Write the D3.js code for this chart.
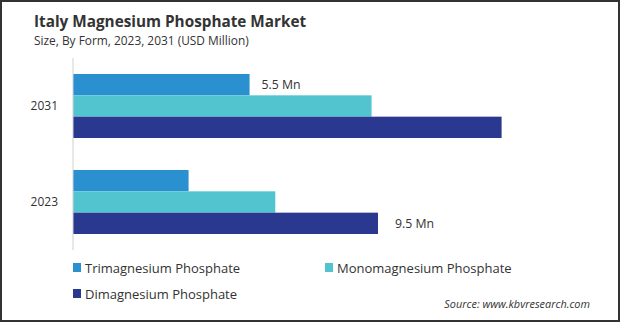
<!DOCTYPE html>
<html>
<head>
<meta charset="utf-8">
<script src="https://cdn.jsdelivr.net/npm/d3@7"></script>
<style>
  html, body { margin: 0; padding: 0; background: #fff; }
  #chart { width: 620px; height: 322px; }
  text { font-family: "Open Sans", "Noto Sans", sans-serif; }
</style>
</head>
<body>
<div id="chart"></div>
<script>
// chart data
const years = ["2031", "2023"];
const series = ["Trimagnesium Phosphate", "Monomagnesium Phosphate", "Dimagnesium Phosphate"];
const colors = ["#2b90d0", "#52c4cf", "#2b3890"];
// values per year, in series order (USD Million)
const values2031 = [5.5, 9.3, 13.35];
const values2023 = [3.6, 6.3, 9.5];
const valueLabels = [
  { year: "2031", series: "Trimagnesium Phosphate", text: "5.5 Mn" },
  { year: "2023", series: "Dimagnesium Phosphate", text: "9.5 Mn" }
];

const width = 620, height = 322;
const byYear = { "2031": values2031, "2023": values2023 };

const svg = d3.select("#chart").append("svg")
  .attr("width", width)
  .attr("height", height);

// frame around the picture
svg.append("rect")
  .attr("x", 1).attr("y", 1)
  .attr("width", width - 2).attr("height", height - 2)
  .attr("fill", "#fff")
  .attr("stroke", "#333")
  .attr("stroke-width", 2);

// titles
svg.append("text")
  .attr("x", 34).attr("y", 27)
  .attr("font-size", 15.3)
  .attr("font-weight", "bold")
  .attr("fill", "#333")
  .text("Italy Magnesium Phosphate Market");

svg.append("text")
  .attr("x", 34).attr("y", 45)
  .attr("font-size", 11.9)
  .attr("fill", "#333")
  .text("Size, By Form, 2023, 2031 (USD Million)");

// scales
const x = d3.scaleLinear().domain([0, 9.5]).range([73, 378]);
const y = d3.scaleBand().domain(years).range([58, 250])
  .paddingInner(1 / 3).paddingOuter(1 / 6);
const ySub = d3.scaleBand().domain(series).range([0, y.bandwidth()]);
const color = d3.scaleOrdinal().domain(series).range(colors);

// bars
const groups = svg.selectAll("g.year")
  .data(years)
  .enter().append("g")
  .attr("class", "year")
  .attr("transform", d => `translate(0,${y(d)})`);

groups.selectAll("rect")
  .data(yr => series.map((s, i) => ({ year: yr, series: s, value: byYear[yr][i] })))
  .enter().append("rect")
  .attr("x", x(0))
  .attr("y", d => ySub(d.series))
  .attr("width", d => x(d.value) - x(0))
  .attr("height", ySub.bandwidth())
  .attr("fill", d => color(d.series));

// vertical axis line
svg.append("line")
  .attr("x1", x(0)).attr("x2", x(0))
  .attr("y1", 58).attr("y2", 250)
  .attr("stroke", "#d0d0d0")
  .attr("stroke-width", 1);

// year labels
svg.selectAll("text.year")
  .data(years)
  .enter().append("text")
  .attr("class", "year")
  .attr("x", 58)
  .attr("y", d => y(d) + y.bandwidth() / 2)
  .attr("dy", "0.35em")
  .attr("text-anchor", "end")
  .attr("font-size", 12)
  .attr("fill", "#333")
  .text(d => d);

// value labels
svg.selectAll("text.val")
  .data(valueLabels)
  .enter().append("text")
  .attr("class", "val")
  .attr("x", d => x(byYear[d.year][series.indexOf(d.series)]) + (d.series === series[2] ? 17 : 12))
  .attr("y", d => y(d.year) + ySub(d.series) + ySub.bandwidth() / 2)
  .attr("dy", "0.35em")
  .attr("font-size", 12.3)
  .attr("fill", "#333")
  .text(d => d.text);

// legend
const legendPos = [[73, 268], [325, 268], [73, 294]];
const legend = svg.selectAll("g.legend")
  .data(series)
  .enter().append("g")
  .attr("class", "legend")
  .attr("transform", (d, i) => `translate(${legendPos[i][0]},${legendPos[i][1]})`);

legend.append("rect")
  .attr("x", 0).attr("y", -5)
  .attr("width", 8).attr("height", 9)
  .attr("fill", d => color(d));

legend.append("text")
  .attr("x", 12)
  .attr("dy", "0.35em")
  .attr("font-size", 13)
  .attr("fill", "#333")
  .text(d => d);

// source
svg.append("text")
  .attr("x", 590).attr("y", 308)
  .attr("text-anchor", "end")
  .attr("font-size", 10.9)
  .attr("font-style", "italic")
  .attr("fill", "#333")
  .text("Source: www.kbvresearch.com");
</script>
</body>
</html>
